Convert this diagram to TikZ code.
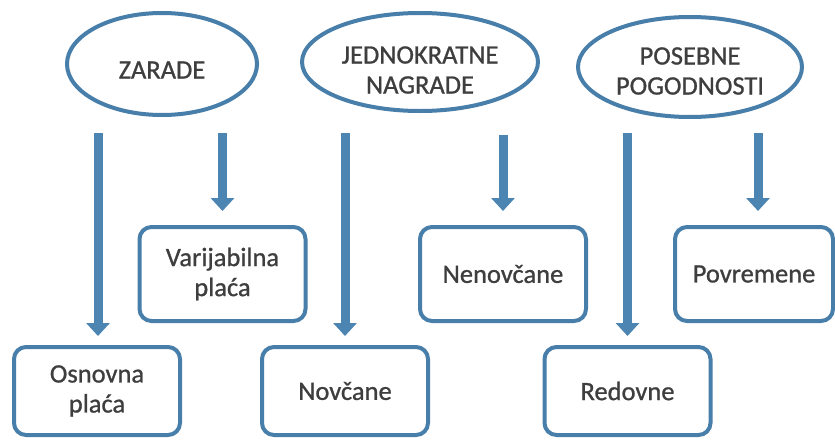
\documentclass[tikz,border=0pt]{standalone}
\usepackage{fontspec}
\setmainfont{Carlito}
\newfontfamily\medfont{Carlito}[FakeBold=0.9]
\usetikzlibrary{arrows.meta,shapes.geometric}
\definecolor{bordblue}{RGB}{72,126,170}
\definecolor{arrblue}{RGB}{76,132,178}
\definecolor{txtgray}{RGB}{62,62,62}
\tikzset{
  oval/.style={ellipse,draw=bordblue,line width=4pt,inner sep=0pt,fill=white},
  lbl/.style={text=txtgray,align=center,font=\medfont\fontsize{26.5}{30}\selectfont,inner sep=0pt},
  boxnode/.style={draw=bordblue,line width=4pt,rounded corners=12pt,minimum width=166pt,
     text=txtgray,align=center,font=\medfont\fontsize{26.5}{30}\selectfont,inner sep=0pt},
  bigarrow/.style={draw=arrblue,line width=9pt,-{Triangle[width=23pt,length=13pt]}}
}
\begin{document}
\begin{tikzpicture}[x=1pt,y=-1pt]
\useasboundingbox (0,0) rectangle (835,439);
\fill[white] (0,0) rectangle (835,439);
% ovals
\node[oval,minimum width=190pt,minimum height=102pt] (zar) at (162,64) {};
\node[lbl] (zart) at (162,70) {ZARADE};
\node[oval,minimum width=236pt,minimum height=98pt] (jed) at (420,62) {};
\node[lbl] (jedt) at (420,70) {JEDNOKRATNE\\NAGRADE};
\node[oval,minimum width=224pt,minimum height=100pt] (pos) at (690,67) {};
\node[lbl] (post) at (690,71) {POSEBNE\\POGODNOSTI};
% boxes
\node[boxnode,minimum height=94pt] (var) at (222.5,274) {Varijabilna\\plaća};
\node[boxnode,minimum height=94pt] (nen) at (503,274) {Nenovčane};
\node[boxnode,minimum height=94pt,minimum width=158pt] (pov) at (754,274) {Povremene};
\node[boxnode,minimum height=88pt] (osn) at (97,391) {Osnovna\\plaća};
\node[boxnode,minimum height=88pt] (nov) at (345,391) {Novčane};
\node[boxnode,minimum height=88pt] (red) at (627.5,391) {Redovne};
% arrow starts
\coordinate (s1) at (98,133);
\coordinate (s2) at (222.5,133);
\coordinate (s3) at (345,133);
\coordinate (s4) at (503,135);
\coordinate (s5) at (627.5,133);
\coordinate (s6) at (758,133);
\draw[bigarrow,shorten >=9pt] (s1) -- (s1 |- osn.north);
\draw[bigarrow,shorten >=14pt] (s2) -- (s2 |- var.north);
\draw[bigarrow,shorten >=9pt] (s3) -- (s3 |- nov.north);
\draw[bigarrow,shorten >=14pt] (s4) -- (s4 |- nen.north);
\draw[bigarrow,shorten >=9pt] (s5) -- (s5 |- red.north);
\draw[bigarrow,shorten >=14pt] (s6) -- (s6 |- pov.north);
\end{tikzpicture}
\end{document}
